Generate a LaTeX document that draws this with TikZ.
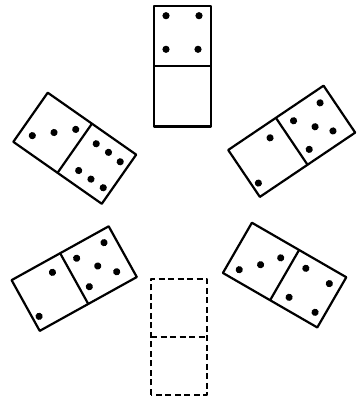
\documentclass[tikz,border=0pt]{standalone}
\begin{document}
\begin{tikzpicture}[x=1pt, y=1pt,
    tile/.style={draw, line width=2.2pt, line join=round},
    gaptile/.style={tile, dash pattern=on 6pt off 3.5pt},
    pip/.style={fill=black}
]
\useasboundingbox (0,0) rectangle (356,406);

% top: four over blank
\begin{scope}[shift={(182.3,339.7)}]
    \draw[tile] (-28.3,-60.3) rectangle (28.3,60.3);
    \draw[tile] (-28.3,0) -- (28.3,0);
    \foreach \x/\y in {-16.3/50.6, 16.7/50.6, -16.3/17, 15.7/17}
        \fill[pip] (\x,\y) circle (3.6pt);
\end{scope}

% upper left: three and six
\begin{scope}[shift={(74.75,257.75)}, rotate=-35]
    \draw[tile] (-54,-30) rectangle (54,30);
    \draw[tile] (0,-30) -- (0,30);
    \foreach \x/\y in {-42/-14, -26/1, -10/16,
                       15/16, 30/16, 45/15, 16/-16, 31/-16, 46/-16}
        \fill[pip] (\x,\y) circle (3.6pt);
\end{scope}

% upper right: two and five
\begin{scope}[shift={(291.7,264.7)}, rotate=34]
    \draw[tile] (-57.5,-28.3) rectangle (57.5,28.3);
    \draw[tile] (0,-28.3) -- (0,28.3);
    \foreach \x/\y in {-16/15, -51/-16,
                       13/16, 45/16, 27.5/-1, 40/-14.5, 10/-16.5}
        \fill[pip] (\x,\y) circle (3.6pt);
\end{scope}

% lower left: two and five
\begin{scope}[shift={(74.2,127.4)}, rotate=29]
    \draw[tile] (-55.5,-29) rectangle (55.5,29);
    \draw[tile] (0,-29) -- (0,29);
    \foreach \x/\y in {-16/16, -49/-16,
                       12/16.6, 43.5/17, 26.7/-0.4, 40.5/-14.6, 9.3/-14.4}
        \fill[pip] (\x,\y) circle (3.6pt);
\end{scope}

% lower right: three and four
\begin{scope}[shift={(284.6,130.9)}, rotate=-30]
    \draw[tile] (-54.5,-29) rectangle (54.5,29);
    \draw[tile] (0,-29) -- (0,29);
    \foreach \x/\y in {-42/-18, -26/-3, -12/13,
                       15/16.5, 43/15, 15/-17, 45/-17}
        \fill[pip] (\x,\y) circle (3.6pt);
\end{scope}

% bottom: the missing tile
\begin{scope}[shift={(178.8,69)}]
    \draw[gaptile] (-27.8,-58) rectangle (27.8,58);
    \draw[gaptile] (-27.8,0) -- (27.8,0);
\end{scope}
\end{tikzpicture}
\end{document}
